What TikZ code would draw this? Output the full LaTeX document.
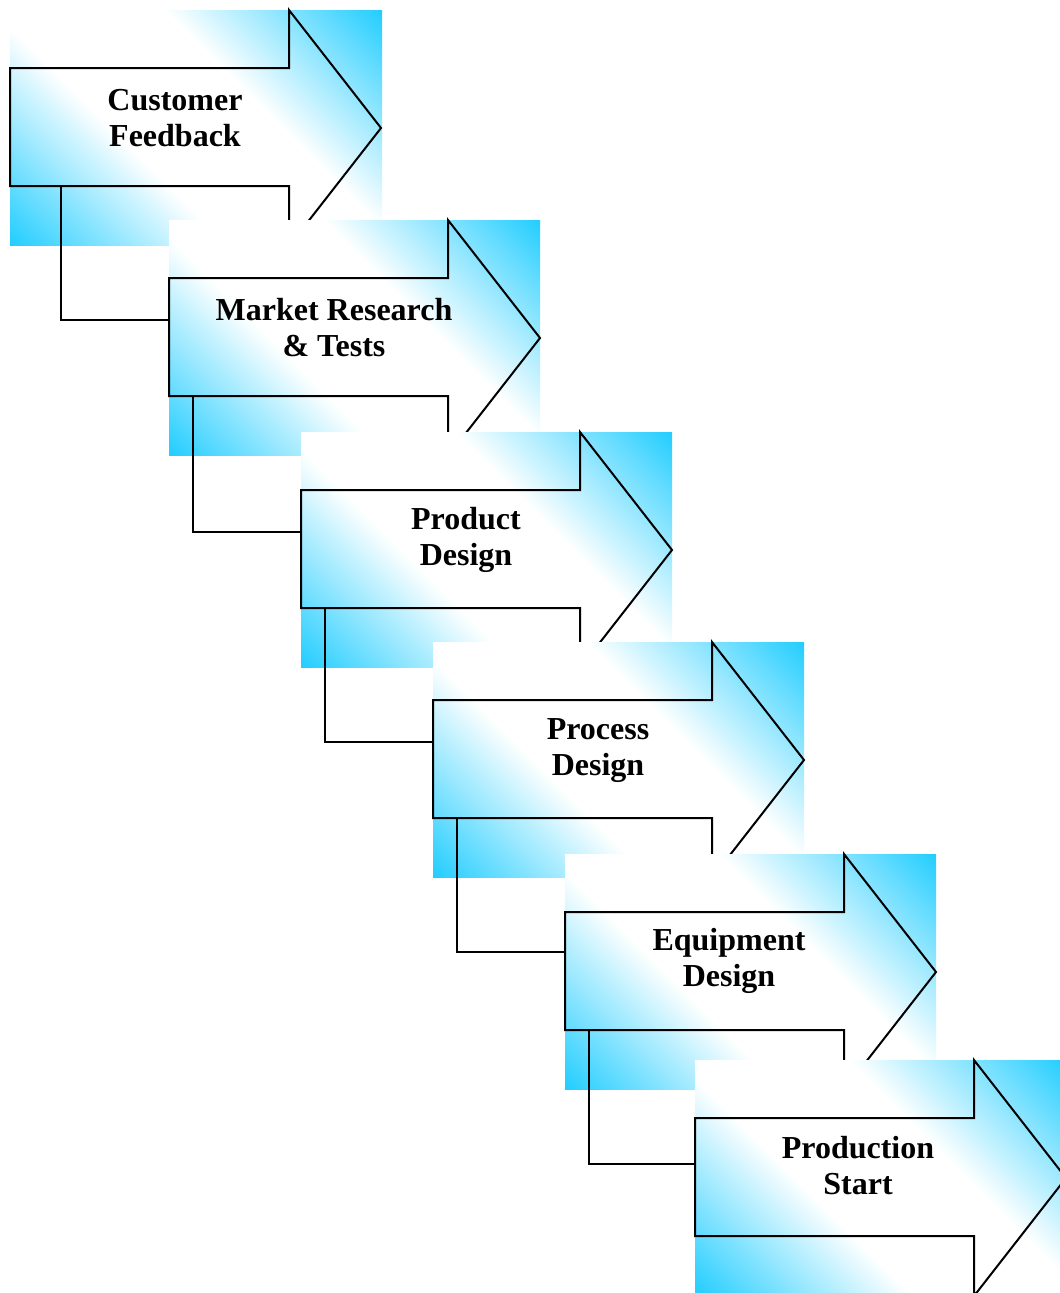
\documentclass[tikz,border=0pt]{standalone}
\usepackage{fontspec}
\setmainfont{Liberation Serif}
\definecolor{stepcyan}{RGB}{30,204,255}
\pgfdeclarehorizontalshading{stepglow}{100bp}{color(0bp)=(stepcyan); color(14bp)=(stepcyan); color(40bp)=(white); color(60bp)=(white); color(86bp)=(stepcyan); color(100bp)=(stepcyan)}

\begin{document}
\begin{tikzpicture}[x=0.75pt,y=-0.75pt,
  stepshade/.style={shading=stepglow,shading angle=45},
  steparrow/.style={line width=1.5pt,line join=miter},
  steplabel/.style={font=\fontsize{24}{27}\selectfont\bfseries,align=center},
  stepline/.style={line width=1.5pt}]
\useasboundingbox (0,0) rectangle (1060,1293);
\clip (0,0) rectangle (1060,1293);

\shade[stepshade] (10,10) rectangle (382,245);
\draw[steparrow] (10,68) -- (289,68) -- (289,10) -- (381,128) -- (289,246) -- (289,186) -- (10,186) -- cycle;
\node[steplabel] (feedback) at (175,118) {Customer\\Feedback};
\coordinate (feedback-out) at (61,186);

\shade[stepshade] (169,220) rectangle (540,455);
\draw[steparrow] (169,278) -- (448,278) -- (448,220) -- (540,338) -- (448,456) -- (448,396) -- (169,396) -- cycle;
\coordinate (research-in) at (169,320);
\coordinate (research-out) at (193,396);
\node[steplabel] (research) at (334,328) {Market Research\\\& Tests};
\draw[stepline] (feedback-out) |- (research-in);

\shade[stepshade] (301,432) rectangle (672,667);
\draw[steparrow] (301,490) -- (580,490) -- (580,432) -- (672,550) -- (580,668) -- (580,608) -- (301,608) -- cycle;
\coordinate (product-in) at (301,532);
\coordinate (product-out) at (325,608);
\node[steplabel] (product) at (466,540) {Product\\Design};
\draw[stepline] (research-out) |- (product-in);

\shade[stepshade] (433,642) rectangle (804,877);
\draw[steparrow] (433,700) -- (712,700) -- (712,642) -- (804,760) -- (712,878) -- (712,818) -- (433,818) -- cycle;
\coordinate (process-in) at (433,742);
\coordinate (process-out) at (457,818);
\node[steplabel] (process) at (598,751) {Process\\Design};
\draw[stepline] (product-out) |- (process-in);

\shade[stepshade] (565,854) rectangle (936,1089);
\draw[steparrow] (565,912) -- (844,912) -- (844,854) -- (936,972) -- (844,1090) -- (844,1030) -- (565,1030) -- cycle;
\coordinate (equipment-in) at (565,952);
\coordinate (equipment-out) at (589,1030);
\node[steplabel] (equipment) at (729,961) {Equipment\\Design};
\draw[stepline] (process-out) |- (equipment-in);

\shade[stepshade] (695,1060) rectangle (1066,1295);
\draw[steparrow] (695,1118) -- (974,1118) -- (974,1060) -- (1066,1178) -- (974,1296) -- (974,1236) -- (695,1236) -- cycle;
\coordinate (production-in) at (695,1164);
\node[steplabel] (production) at (858,1166) {Production\\Start};
\draw[stepline] (equipment-out) |- (production-in);
\end{tikzpicture}
\end{document}
